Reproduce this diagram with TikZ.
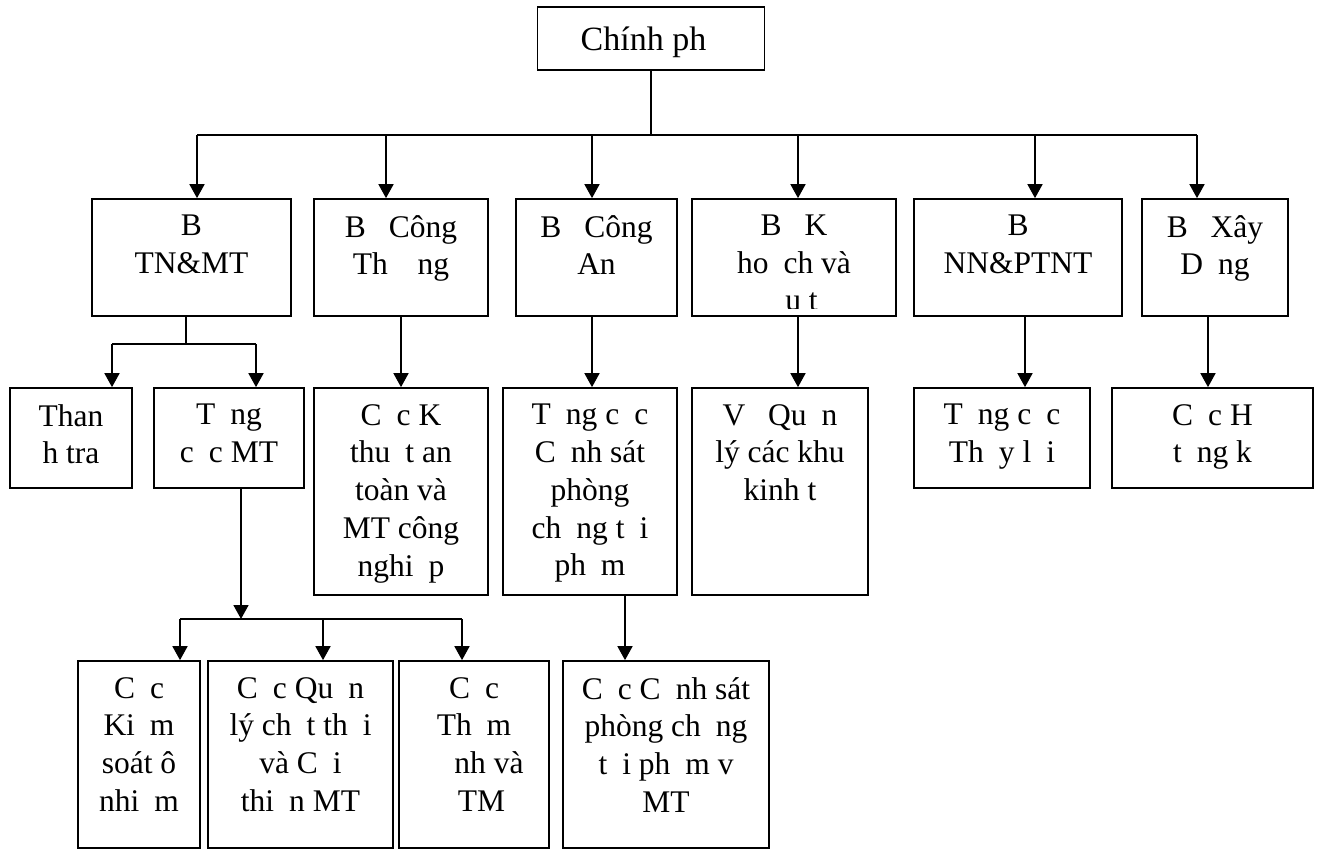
\documentclass[tikz,border=0pt]{standalone}
\usepackage{fontspec}
\setmainfont{Liberation Serif}
\usetikzlibrary{arrows.meta}

\newcommand{\gp}{\hspace{15pt}}

\tikzset{
  box/.style={draw, line width=1.7pt, inner sep=0pt},
  txt/.style={anchor=north, align=center, inner sep=0pt, yshift=-17pt,
    execute at begin node={\rule{0pt}{23pt}},
    font=\fontsize{31.5pt}{37.7pt}\selectfont},
  link/.style={line width=1.7pt},
  arr/.style={line width=1.7pt, -{Triangle[length=14pt,width=15pt]}}
}

\begin{document}
\begin{tikzpicture}[x=1pt, y=-1pt]
\useasboundingbox (0,0) rectangle (1318,850);

% top
\node[box, minimum width=227pt, minimum height=63pt,
  label={[txt, yshift=-4pt, font=\fontsize{34pt}{40pt}\selectfont]north:{Chính ph\gp}}] (chinhphu) at (651,38.5) {};

% ministries
\node[box, minimum width=199pt, minimum height=117pt,
  label={[txt]north:{B\gp\\TN\&MT}}] (tnmt) at (191.5,257.5) {};
\node[box, minimum width=174pt, minimum height=117pt,
  label={[txt]north:{B\gp\ Công\\Th\gp\gp ng}}] (congthuong) at (401,257.5) {};
\node[box, minimum width=161pt, minimum height=117pt,
  label={[txt]north:{B\gp\ Công\\An}}] (congan) at (596.5,257.5) {};
\node[box, minimum width=204pt, minimum height=117pt,
  label={[txt]north:{B\gp\ K\gp\\ho\gp ch và}}] (khdt) at (794,257.5) {};
\node[box, minimum width=208pt, minimum height=117pt,
  label={[txt]north:{B\gp\\NN\&PTNT}}] (nnptnt) at (1018,257.5) {};
\node[box, minimum width=146pt, minimum height=117pt,
  label={[txt]north:{B\gp\ Xây\\D\gp ng}}] (xaydung) at (1215,257.5) {};

\begin{scope}
\clip (khdt.north west) rectangle ([yshift=8pt]khdt.south east);
\node[txt] (khdtrest) at ([yshift=-72.4pt]khdt.north) {\gp\gp u t\gp};
\end{scope}

% second level
\node[box, minimum width=122pt, minimum height=100pt,
  label={[txt]north:{Than\\h tra}}] (thanhtra) at (71,438) {};
\node[box, minimum width=150pt, minimum height=100pt,
  label={[txt]north:{T\gp ng\\c\gp c MT}}] (tongcucmt) at (229,438) {};
\node[box, minimum width=174pt, minimum height=207pt,
  label={[txt]north:{C\gp c K\gp\\thu\gp t an\\toàn và\\MT công\\nghi\gp p}}] (cuckt) at (401,491.5) {};
\node[box, minimum width=174pt, minimum height=207pt,
  label={[txt]north:{T\gp ng c\gp c\\C\gp nh sát\\phòng\\ch\gp ng t\gp i\\ph\gp m}}] (tongcuccs) at (590,491.5) {};
\node[box, minimum width=176pt, minimum height=207pt,
  label={[txt]north:{V\gp\ Qu\gp n\\lý các khu\\kinh t\gp}}] (vuql) at (780,491.5) {};
\node[box, minimum width=176pt, minimum height=100pt,
  label={[txt]north:{T\gp ng c\gp c\\Th\gp y l\gp i}}] (tcthuyloi) at (1002,438) {};
\node[box, minimum width=201pt, minimum height=100pt,
  label={[txt]north:{C\gp c H\gp\\t\gp ng k\gp}}] (cuchatang) at (1212.5,438) {};

% third level
\node[box, minimum width=122pt, minimum height=187pt,
  label={[txt]north:{C\gp c\\Ki\gp m\\soát ô\\nhi\gp m}}] (cucks) at (139,754.5) {};
\node[box, minimum width=185pt, minimum height=187pt,
  label={[txt]north:{C\gp c Qu\gp n\\lý ch\gp t th\gp i\\và C\gp i\\thi\gp n MT}}] (cucqlct) at (300.5,754.5) {};
\node[box, minimum width=150pt, minimum height=187pt,
  label={[txt]north:{C\gp c\\Th\gp m\\\gp\gp nh và\\\gp TM}}] (cuctd) at (474,754.5) {};
\node[box, minimum width=206pt, minimum height=187pt,
  label={[txt]north:{C\gp c C\gp nh sát\\phòng ch\gp ng\\t\gp i ph\gp m v\gp\\MT}}] (cuccsmt) at (666,754.5) {};

% bus points
\coordinate (b1) at (197,135);
\coordinate (b2) at (386,135);
\coordinate (b3) at (592,135);
\coordinate (b4) at (798,135);
\coordinate (b5) at (1035,135);
\coordinate (b6) at (1197,135);
\coordinate (s1) at (186,344);
\coordinate (t1) at (112,344);
\coordinate (t2) at (256,344);
\coordinate (s3) at (592,0);
\coordinate (s4) at (798,0);
\coordinate (s5) at (1025,0);
\coordinate (s6) at (1208,0);
\coordinate (u0) at (241,619);
\coordinate (u1) at (180,619);
\coordinate (u2) at (323,619);
\coordinate (u3) at (462,619);
\coordinate (s7) at (625,0);

% connectors
\draw[link] (chinhphu.south) -- (chinhphu.south |- b1);
\draw[link] (b1) -- (b6);
\draw[arr] (b1) -- (b1 |- tnmt.north);
\draw[arr] (b2) -- (b2 |- congthuong.north);
\draw[arr] (b3) -- (b3 |- congan.north);
\draw[arr] (b4) -- (b4 |- khdt.north);
\draw[arr] (b5) -- (b5 |- nnptnt.north);
\draw[arr] (b6) -- (b6 |- xaydung.north);

\draw[link] (s1 |- tnmt.south) -- (s1);
\draw[link] (t1) -- (t2);
\draw[arr] (t1) -- (t1 |- thanhtra.north);
\draw[arr] (t2) -- (t2 |- tongcucmt.north);
\draw[arr] (congthuong.south) -- (cuckt.north);
\draw[arr] (s3 |- congan.south) -- (s3 |- tongcuccs.north);
\draw[arr] (s4 |- khdt.south) -- (s4 |- vuql.north);
\draw[arr] (s5 |- nnptnt.south) -- (s5 |- tcthuyloi.north);
\draw[arr] (s6 |- xaydung.south) -- (s6 |- cuchatang.north);

\draw[arr] (u0 |- tongcucmt.south) -- (u0);
\draw[link] (u1) -- (u3);
\draw[arr] (u1) -- (u1 |- cucks.north);
\draw[arr] (u2) -- (u2 |- cucqlct.north);
\draw[arr] (u3) -- (u3 |- cuctd.north);
\draw[arr] (s7 |- tongcuccs.south) -- (s7 |- cuccsmt.north);
\end{tikzpicture}
\end{document}
